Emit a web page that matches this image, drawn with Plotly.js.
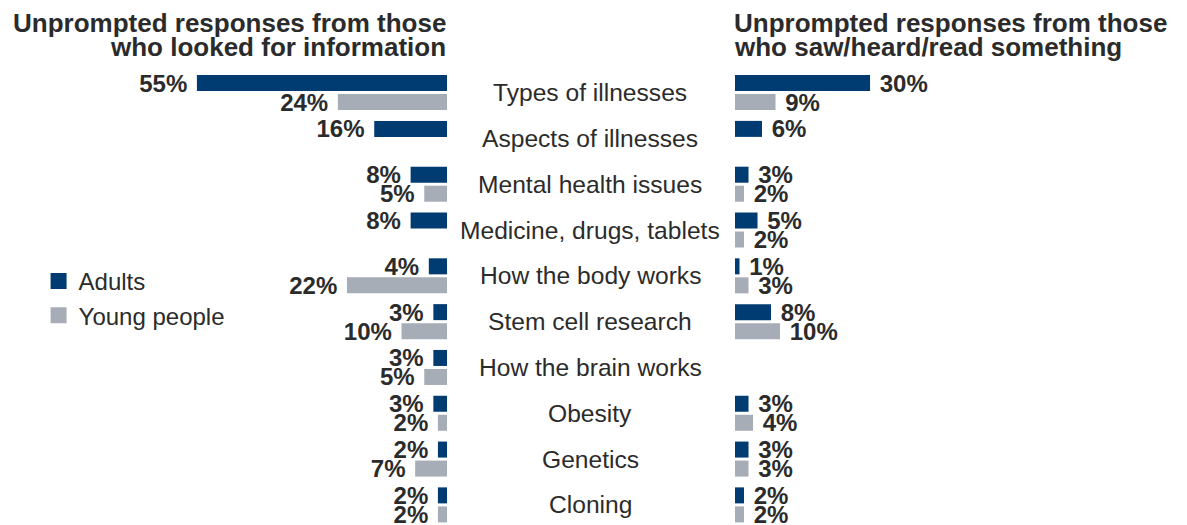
<!DOCTYPE html>
<html>
<head>
<meta charset="utf-8">
<script src="https://cdn.plot.ly/plotly-3.0.1.min.js"></script>
<style>html,body{margin:0;padding:0;background:#fff;}#chart{width:1187px;height:525px;}</style>
</head>
<body>
<div id="chart"></div>
<script>
const categories = ['Types of illnesses','Aspects of illnesses','Mental health issues','Medicine, drugs, tablets','How the body works','Stem cell research','How the brain works','Obesity','Genetics','Cloning'];
const lookedAdults = [55,16,8,8,4,3,3,3,2,2];
const lookedYoung  = [24,null,5,null,22,10,5,2,7,2];
const sawAdults    = [30,6,3,5,1,8,null,3,3,2];
const sawYoung     = [9,null,2,2,3,10,null,4,3,2];
const seriesNames = ['Adults','Young people'];
const leftTitle = ['Unprompted responses from those','who looked for information'];
const rightTitle = ['Unprompted responses from those','who saw/heard/read something'];

const NAVY = '#003B71', GREY = '#A6ADB6', TXT = '#2B2B2B';
const W = 1187, H = 525;
const FAM = 'Liberation Sans, Arial, sans-serif';
const labelFont = {family: FAM, size: 24, color: TXT, weight: 'bold'};

function bar(x, name, color, xa, left) {
  return {
    type: 'bar', orientation: 'h', y: categories, x: x, name: name,
    marker: {color: color}, xaxis: xa, yaxis: 'y', showlegend: false, legendgroup: name,
    texttemplate: left ? '<b>%{x}%</b>\u00a0' : '\u00a0<b>%{x}%</b>',
    textposition: 'outside', constraintext: 'none', cliponaxis: false,
    textfont: labelFont, hoverinfo: 'skip'
  };
}
function legendEntry(name, color) {
  return {
    type: 'scatter', mode: 'markers', x: [null], y: [null], name: name, legendgroup: name,
    marker: {symbol: 'square', size: 16, color: color}, xaxis: 'x', yaxis: 'y',
    showlegend: true, hoverinfo: 'skip'
  };
}

const data = [
  bar(lookedAdults, seriesNames[0], NAVY, 'x', true),
  bar(lookedYoung, seriesNames[1], GREY, 'x', true),
  bar(sawAdults, seriesNames[0], NAVY, 'x2', false),
  bar(sawYoung, seriesNames[1], GREY, 'x2', false),
  legendEntry(seriesNames[0], NAVY),
  legendEntry(seriesNames[1], GREY)
];

const annotations = [];
categories.forEach(c => annotations.push({
  xref: 'paper', yref: 'y', x: 590 / W, y: c, text: c, showarrow: false,
  xanchor: 'center', yanchor: 'middle',
  font: {family: FAM, size: 24.6, color: TXT}
}));
const titleFont = {family: FAM, size: 26, color: TXT, weight: 'bold'};
[23, 47].forEach((py, i) => {
  annotations.push({xref: 'paper', yref: 'paper', x: 448 / W, y: 1 - py / H, xanchor: 'right', yanchor: 'middle',
    text: '<b>' + leftTitle[i] + '</b>', showarrow: false, font: titleFont});
  annotations.push({xref: 'paper', yref: 'paper', x: 732 / W, y: 1 - py / H, xanchor: 'left', yanchor: 'middle',
    text: '<b>' + rightTitle[i] + '</b>', showarrow: false, font: titleFont});
});

const hidden = {showgrid: false, zeroline: false, showticklabels: false, showline: false, ticks: '', fixedrange: true};
const layout = {
  width: W, height: H,
  margin: {l: 0, r: 0, t: 0, b: 0},
  paper_bgcolor: '#fff', plot_bgcolor: 'rgba(0,0,0,0)',
  barmode: 'group', bargap: 0.17, bargroupgap: 0.158,
  xaxis: Object.assign({domain: [0, 447 / W], range: [98.3, 0], anchor: 'y'}, hidden),
  xaxis2: Object.assign({domain: [735 / W, 1], range: [0, 100.4], anchor: 'y'}, hidden),
  yaxis: Object.assign({type: 'category', categoryarray: categories, categoryorder: 'array', range: [9.439, -2.021]}, hidden),
  showlegend: true,
  legend: {x: 0.0325, y: 1 - 259 / H, xanchor: 'left', yanchor: 'top', bgcolor: 'rgba(0,0,0,0)',
    font: {family: FAM, size: 24, color: TXT}, tracegroupgap: 0, itemsizing: 'trace'},
  annotations: annotations,
  hovermode: false
};

Plotly.newPlot('chart', data, layout, {staticPlot: true, displayModeBar: false});
</script>
</body>
</html>
